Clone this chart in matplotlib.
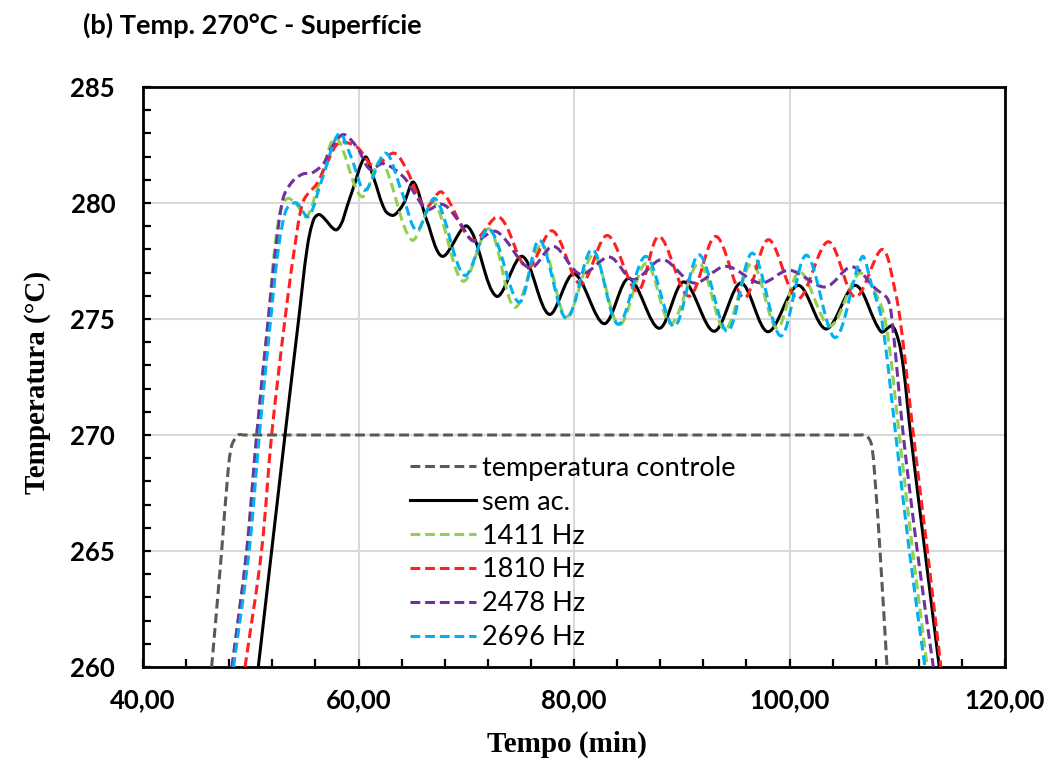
import numpy as np
import matplotlib
matplotlib.use("Agg")
import matplotlib.pyplot as plt
from matplotlib.path import Path
from matplotlib.patches import PathPatch
from matplotlib.lines import Line2D
from matplotlib.ticker import MultipleLocator, FuncFormatter

# ---- data: time (min) and temperature (°C) at the turning points of each curve ----
ctrl_t = [46.37, 47.3, 47.83, 48.23, 48.85, 49.4, 106.6, 107.1, 107.6, 107.95, 108.4, 109.05]
ctrl_T = [260.0, 265.0, 268.1, 269.54, 270.0, 270.0, 270.0, 270.0, 269.6, 268.0, 265.0, 260.0]

sem_t = [50.70, 53.18, 54.45, 55.25, 55.85, 56.4, 57.99, 59.23, 60.62, 61.39, 62.47, 63.25,
         64.18, 65.1, 66.34, 67.8, 70.1, 72.8, 75.2, 77.7, 80.0, 82.8, 85.1, 87.9, 90.2,
         93.0, 95.5, 98.0, 100.8, 103.4, 106.1, 108.5, 109.5, 110.1, 110.56, 111.25, 112.57, 113.9]
sem_T = [260.0, 270.0, 275.0, 278.1, 279.3, 279.5, 278.85, 280.26, 281.98, 281.1, 279.68, 279.47,
         279.97, 280.9, 279.25, 277.7, 279.0, 275.98, 277.7, 275.2, 276.95, 274.8, 276.75, 274.6, 276.6,
         274.47, 276.55, 274.45, 276.45, 274.57, 276.45, 274.45, 274.7, 274.1, 272.94, 270.0, 265.0, 260.0]

hz1411_t = [48.3, 49.62, 50.55, 51.63, 52.25, 52.9, 53.5, 54.3, 55.19, 56.3, 57.9, 60.3, 62.1,
            64.95, 66.96, 69.7, 72.11, 74.5, 77.0, 79.3, 81.8, 84.2, 86.7, 89.0, 91.6, 94.0,
            96.5, 98.85, 100.94, 103.76, 106.42, 107.67, 108.86, 110.19, 111.43, 112.79]
hz1411_T = [260.0, 265.0, 270.0, 275.0, 278.16, 279.9, 280.2, 279.9, 279.41, 280.8, 282.8, 280.27, 281.8,
            278.4, 280.04, 276.63, 278.89, 275.5, 278.2, 275.1, 277.75, 274.75, 277.4, 274.8, 277.4, 274.55,
            277.4, 274.6, 277.03, 274.71, 276.96, 276.38, 275.0, 270.0, 265.0, 260.0]

hz1810_t = [49.47, 51.0, 51.94, 53.18, 54.1, 54.9, 56.13, 57.06, 58.2, 59.85, 61.4, 63.3, 64.49,
            65.72, 66.3, 67.73, 70.6, 73.04, 75.67, 77.99, 80.62, 83.1, 85.88, 87.89, 90.68, 93.16,
            95.79, 98.05, 100.78, 103.6, 106.1, 108.6, 109.85, 110.4, 111.5, 112.8, 114.05]
hz1810_T = [260.0, 265.0, 270.0, 275.0, 278.16, 280.1, 280.83, 281.7, 282.6, 282.41, 281.6, 282.15, 281.41,
            280.11, 279.8, 280.47, 278.4, 279.4, 277.2, 278.8, 276.5, 278.6, 276.2, 278.56, 275.98, 278.56,
            275.9, 278.42, 275.87, 278.33, 275.94, 278.0, 276.1, 274.5, 270.0, 265.0, 260.0]

hz2478_t = [48.25, 49.62, 50.55, 51.63, 52.35, 53.04, 53.97, 54.9, 55.67, 56.75, 57.53, 58.6, 59.85,
            61.07, 62.3, 64.18, 65.41, 66.34, 67.6, 68.3, 69.48, 70.7, 72.8, 75.9, 78.1, 80.62, 83.3,
            85.5, 88.2, 91.15, 94.09, 97.34, 100.0, 103.3, 105.8, 108.0, 109.1, 109.5, 110.56, 111.86, 113.35]
hz2478_T = [260.0, 265.0, 270.0, 275.0, 278.16, 280.26, 280.98, 281.26, 281.29, 281.7, 282.41, 282.95, 282.41,
            281.45, 281.7, 281.12, 280.26, 279.71, 279.95, 279.8, 279.1, 278.35, 278.77, 277.2, 278.13, 276.93, 277.67,
            276.7, 277.56, 276.55, 277.27, 276.55, 277.1, 276.38, 277.25, 276.3, 275.87, 275.0, 270.0, 265.0, 260.0]

hz2696_t = [48.4, 49.85, 50.8, 51.85, 52.6, 53.2, 53.6, 54.26, 55.34, 56.6, 58.2, 59.3, 60.6, 62.5,
            64.0, 65.41, 67.12, 69.85, 72.11, 74.9, 76.8, 79.3, 81.7, 84.1, 86.66, 89.29, 91.61,
            94.24, 96.56, 99.2, 101.57, 104.23, 106.73, 107.6, 108.55, 109.86, 111.12, 112.57]
hz2696_T = [260.0, 265.0, 270.0, 275.0, 278.16, 279.6, 279.9, 280.0, 279.41, 281.0, 283.0, 282.0, 280.55, 282.15,
            280.5, 278.82, 280.19, 276.88, 278.89, 275.72, 278.4, 275.02, 278.0, 274.77, 277.7, 274.68, 277.77,
            274.47, 277.84, 274.27, 277.75, 274.2, 277.68, 276.5, 275.0, 270.0, 265.0, 260.0]

labels = ["temperatura controle", "sem ac.", "1411 Hz", "1810 Hz", "2478 Hz", "2696 Hz"]
colors = ["#595959", "#000000", "#92d050", "#ff2020", "#7030a0", "#00b0f0"]
series = [(ctrl_t, ctrl_T), (sem_t, sem_T), (hz1411_t, hz1411_T),
          (hz1810_t, hz1810_T), (hz2478_t, hz2478_T), (hz2696_t, hz2696_T)]

x_ticks = [40, 60, 80, 100, 120]
y_ticks = [260, 265, 270, 275, 280, 285]

# relative screen size of one unit on each axis, used to measure chord lengths
X_UNIT, Y_UNIT = 10.775, 23.2


def smooth_path(xs, ys):
    """Chord-length Catmull-Rom curve through the points, as cubic Bezier segments."""
    pts = np.column_stack([xs, ys]).astype(float)
    n = len(pts)
    scaled = pts * [X_UNIT, Y_UNIT]
    d = np.hypot(*np.diff(scaled, axis=0).T)  # chord lengths in screen-like units
    tang = np.zeros_like(pts)
    for i in range(n):
        if i == 0:
            tang[i] = (pts[1] - pts[0]) / d[0]
        elif i == n - 1:
            tang[i] = (pts[-1] - pts[-2]) / d[-1]
        else:
            tang[i] = (pts[i + 1] - pts[i - 1]) / (d[i - 1] + d[i])
    verts = [pts[0]]
    codes = [Path.MOVETO]
    for i in range(n - 1):
        verts += [pts[i] + tang[i] * d[i] / 3.0,
                  pts[i + 1] - tang[i + 1] * d[i] / 3.0,
                  pts[i + 1]]
        codes += [Path.CURVE4] * 3
    return Path(verts, codes)


fig = plt.figure(figsize=(10.54, 7.6), dpi=100)
ax = fig.add_axes([143 / 1054, 1 - 667 / 760, (1005 - 143) / 1054, (667 - 87) / 760])

ax.set_xlim(40, 120)
ax.set_ylim(260, 285)

dash = (0, (3.2, 1.6))
handles = []
for (t, T), lab, col in zip(series, labels, colors):
    ls = "-" if lab == "sem ac." else dash
    lw = 2.2
    patch = PathPatch(smooth_path(t, T), fill=False, edgecolor=col, lw=lw,
                      linestyle=ls, capstyle="butt", joinstyle="round", zorder=3)
    ax.add_patch(patch)
    handles.append(Line2D([], [], color=col, lw=lw, linestyle=ls, dash_capstyle="butt"))

# grid and ticks
ax.xaxis.set_minor_locator(MultipleLocator(4))
ax.yaxis.set_minor_locator(MultipleLocator(1))
ax.set_xticks(x_ticks)
ax.set_yticks(y_ticks)
ax.grid(True, which="major", color="#d9d9d9", lw=1.5, zorder=0)
ax.set_axisbelow(True)

ax.xaxis.set_major_formatter(FuncFormatter(lambda v, p: f"{v:.2f}".replace(".", ",")))
ax.yaxis.set_major_formatter(FuncFormatter(lambda v, p: f"{v:.0f}"))

ax.tick_params(which="both", direction="in", length=6, width=1.6, color="black",
               top=False, right=False)
ax.tick_params(axis="y", which="major", pad=20)
ax.tick_params(axis="x", which="major", pad=15)
for lab in ax.get_xticklabels() + ax.get_yticklabels():
    lab.set_fontfamily("Lato")
    lab.set_fontweight("bold")
    lab.set_fontsize(18.5)

for sp in ax.spines.values():
    sp.set_linewidth(2.0)
    sp.set_color("black")

# texts
fig.text(83 / 1054, 1 - 25 / 760, "(b) Temp. 270°C - Superfície", family="Lato",
         weight="bold", fontsize=19.5, ha="left", va="center")
fig.text(38 / 1054, 1 - 382 / 760, "Temperatura (°C)", family="Liberation Serif",
         weight="bold", fontsize=21, rotation=90, ha="center", va="center")
fig.text(567 / 1054, 1 - 744 / 760, "Tempo (min)", family="Liberation Serif",
         weight="bold", fontsize=21, ha="center", va="center")

leg = ax.legend(handles, labels, loc="center left",
                bbox_to_anchor=(410 / 1054, 1 - 553 / 760), bbox_transform=fig.transFigure,
                frameon=False, borderpad=0, borderaxespad=0, handlelength=2.45,
                handletextpad=0.2, labelspacing=0.33,
                prop={"family": "Lato", "size": 19.5})

fig.savefig("out.png", dpi=100)
